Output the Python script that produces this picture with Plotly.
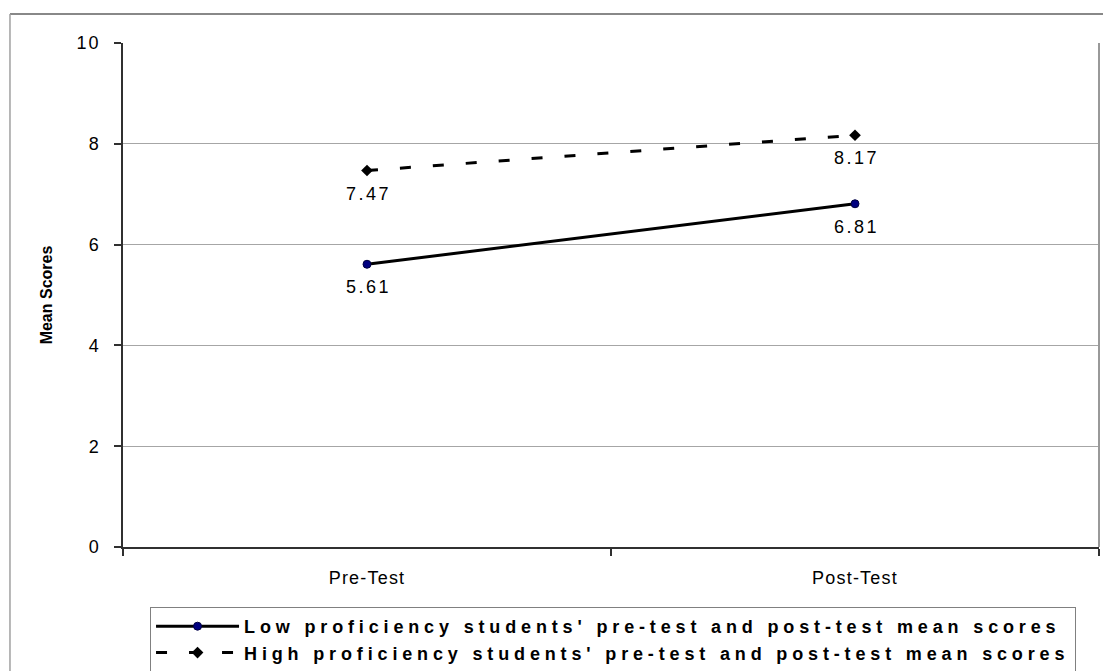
import plotly.graph_objects as go

# Test phases and mean scores
phases = ["Pre-Test", "Post-Test"]
low_scores = [5.61, 6.81]
high_scores = [7.47, 8.17]
y_ticks = [0, 2, 4, 6, 8, 10]

low_name = "Low proficiency students' pre-test and post-test mean scores"
high_name = "High proficiency students' pre-test and post-test mean scores"

FONT = "Liberation Sans, Arial"


def spaced(text, px):
    """Wrap text in a span with extra letter spacing."""
    return f'<span style="letter-spacing:{px}px">{text}</span>'


xpos = list(range(len(phases)))

fig = go.Figure()

fig.add_trace(go.Scatter(
    x=xpos, y=low_scores, mode="lines+markers",
    name=spaced(low_name, 4.85),
    line=dict(color="black", width=3),
    marker=dict(symbol="circle", size=8, color="#000080",
                line=dict(color="#000040", width=1)),
))

fig.add_trace(go.Scatter(
    x=xpos, y=high_scores, mode="lines+markers",
    name=spaced(high_name, 4.85),
    line=dict(color="black", width=3, dash="11px,22px"),
    marker=dict(symbol="diamond", size=9, color="black"),
))

# value labels under each point
for series in (low_scores, high_scores):
    for xi, v in zip(xpos, series):
        fig.add_annotation(
            x=xi, y=v, text=spaced(f"{v:.2f}", 2.5), showarrow=False,
            yshift=-23, xshift=1,
            font=dict(family=FONT, size=18, color="black"),
        )

# outer chart frame (top and left edges visible)
fig.add_shape(type="line", xref="paper", yref="paper",
              x0=-0.1158, x1=1.1, y0=1.0575, y1=1.0575,
              line=dict(color="#606060", width=1.5))
fig.add_shape(type="line", xref="paper", yref="paper",
              x0=-0.1158, x1=-0.1158, y0=-0.5, y1=1.0575,
              line=dict(color="#a0a0a0", width=1.5))
# right edge of the plot area
fig.add_shape(type="line", xref="paper", yref="paper",
              x0=1, x1=1, y0=0, y1=1,
              line=dict(color="#999999", width=2))

fig.update_layout(
    width=1103, height=671,
    margin=dict(l=123, r=4, t=43, b=124, autoexpand=False),
    paper_bgcolor="white", plot_bgcolor="white",
    font=dict(family=FONT, size=18, color="black"),
    showlegend=True,
    legend=dict(
        x=0.0277, y=-0.119, xanchor="left", yanchor="top",
        bordercolor="#808080", borderwidth=1, bgcolor="white",
        itemwidth=83, tracegroupgap=0,
        font=dict(family=FONT, size=18, color="black", weight="bold"),
    ),
    xaxis=dict(
        type="linear", range=[-0.5, 1.5],
        tickvals=xpos, ticktext=[spaced(p, 1.2) for p in phases], ticks="",
        showgrid=False, zeroline=False,
        showline=True, linecolor="#303030", linewidth=1.5,
        minor=dict(tickvals=[-0.5, 0.5, 1.5], ticks="outside", ticklen=7,
                   tickcolor="#303030", tickwidth=1.5, showgrid=False),
        ticklabelstandoff=14,
        tickfont=dict(size=18),
        fixedrange=True,
    ),
    yaxis=dict(
        range=[0, 10], tickvals=y_ticks,
        ticktext=[spaced(str(t), 2) for t in y_ticks],
        ticks="outside", ticklen=7, tickcolor="#303030", tickwidth=1.5,
        showgrid=True, gridcolor="#a6a6a6", gridwidth=1.2,
        zeroline=False,
        showline=True, linecolor="#303030", linewidth=1.5,
        ticklabelstandoff=10,
        tickfont=dict(size=18),
        title=dict(text="Mean Scores", standoff=20,
                   font=dict(family=FONT, size=16, weight="bold")),
    ),
)

fig.write_html("out.html")
